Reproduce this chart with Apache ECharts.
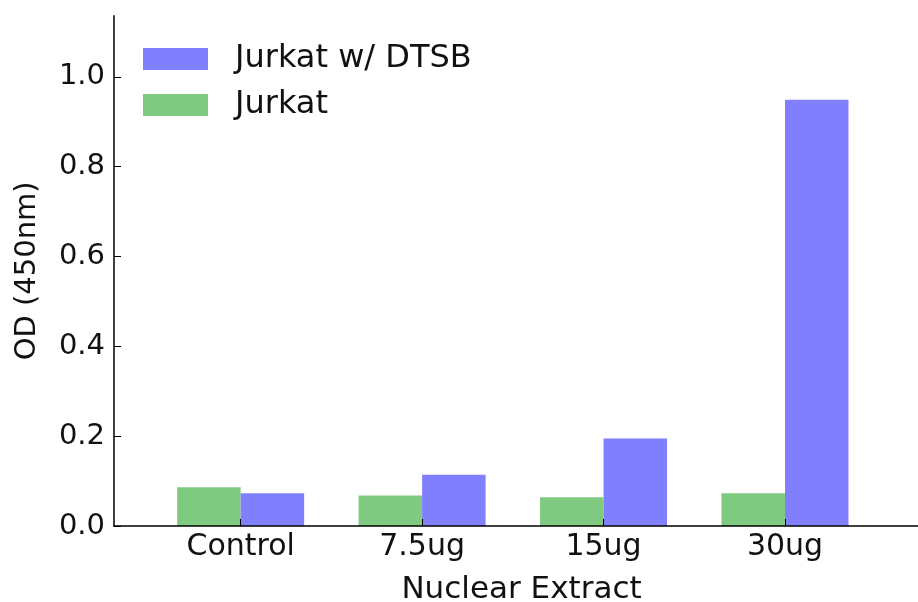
<!DOCTYPE html>
<html>
<head>
<meta charset="utf-8">
<script src="https://cdn.jsdelivr.net/npm/echarts@6/dist/echarts.min.js"></script>
<style>
html,body{margin:0;padding:0;background:#fff;}
#chart{width:918px;height:602px;}
</style>
</head>
<body>
<div id="chart"></div>
<script>
const categories = ['Control', '7.5ug', '15ug', '30ug'];
const jurkat = [0.086, 0.068, 0.064, 0.073];
const jurkatDTSB = [0.073, 0.114, 0.195, 0.949];
const yTicks = [0, 0.2, 0.4, 0.6, 0.8, 1.0];
const xTicks = [0, 1, 2, 3];

const font = 'DejaVu Sans';
const chart = echarts.init(document.getElementById('chart'));
chart.setOption({
  animation: false,
  backgroundColor: '#fff',
  textStyle: { fontFamily: font },
  grid: { left: 114, right: 0, top: 15.7, bottom: 76, containLabel: false, outerBoundsMode: 'none' },
  legend: {
    orient: 'vertical',
    left: 143, top: 43, padding: 0,
    data: ['Jurkat w/ DTSB', 'Jurkat'],
    itemWidth: 65, itemHeight: 22, itemGap: 14,
    icon: 'rect',
    textStyle: { fontFamily: font, fontSize: 32, color: '#111', padding: [0, 0, 0, 22], lineHeight: 30 }
  },
  xAxis: {
    type: 'value',
    min: -0.698, max: 3.733,
    z: 5,
    name: 'Nuclear Extract',
    nameLocation: 'middle',
    nameGap: 48,
    nameTextStyle: { fontFamily: font, fontSize: 31, color: '#111', padding: [0, 0, 0, 11] },
    axisLine: { show: true, onZero: false, lineStyle: { color: '#000', width: 1.5 } },
    splitLine: { show: false },
    axisTick: { show: true, inside: true, length: 7, customValues: xTicks, lineStyle: { color: '#000' } },
    axisLabel: {
      customValues: xTicks,
      margin: 6,
      fontFamily: font, fontSize: 30, color: '#111',
      formatter: v => categories[Math.round(v)]
    }
  },
  yAxis: {
    type: 'value',
    min: 0, max: 1.136,
    name: 'OD (450nm)',
    nameLocation: 'middle',
    nameGap: 72,
    nameTextStyle: { fontFamily: font, fontSize: 29, color: '#111' },
    axisLine: { show: true, onZero: false, lineStyle: { color: '#000', width: 1.5 } },
    splitLine: { show: false },
    axisTick: { show: true, inside: true, length: 7, customValues: yTicks, lineStyle: { color: '#000' } },
    axisLabel: {
      customValues: yTicks,
      margin: 9,
      fontFamily: font, fontSize: 29, color: '#111',
      formatter: v => v.toFixed(1)
    }
  },
  series: [
    {
      name: 'Jurkat', type: 'bar',
      data: jurkat.map((v, i) => [xTicks[i], v]),
      barWidth: 63.5, barGap: '0%',
      itemStyle: { color: '#80c980' }
    },
    {
      name: 'Jurkat w/ DTSB', type: 'bar',
      data: jurkatDTSB.map((v, i) => [xTicks[i], v]),
      barWidth: 63.5, barGap: '0%',
      itemStyle: { color: '#8080ff' }
    }
  ]
});
</script>
</body>
</html>
